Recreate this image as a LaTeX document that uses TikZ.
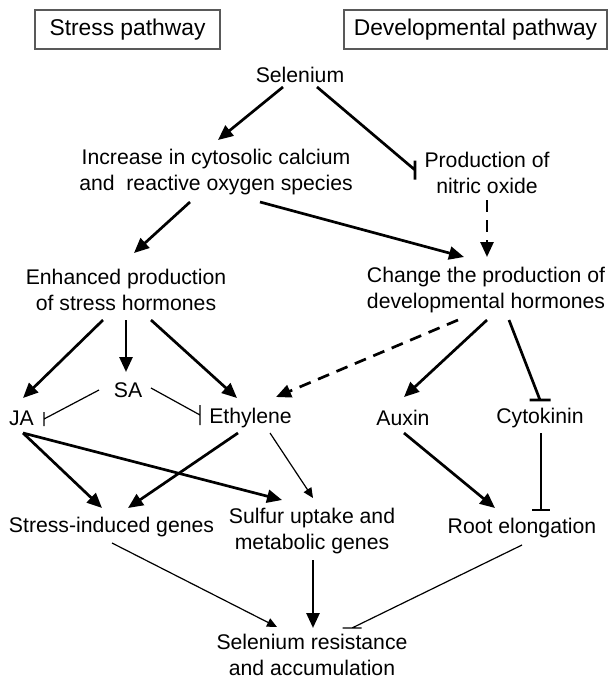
\documentclass[tikz,border=0pt]{standalone}
\usepackage{fontspec}
\setmainfont{Liberation Sans}
\usepackage{tikz}
\usetikzlibrary{arrows.meta}
\usetikzlibrary{calc}

\begin{document}
\begin{tikzpicture}[x=0.5pt, y=-0.5pt,
    texto/.style={align=center, inner sep=0pt, font=\fontsize{10.6}{13}\selectfont},
    caja/.style={draw=black!65, line width=0.7pt, minimum height=19.5pt, inner sep=0pt, font=\fontsize{11.4}{13}\selectfont},
    flecha/.style={line width=1.35pt, -{Triangle[length=7.5pt,width=6.5pt]}},
    fina/.style={line width=0.6pt, -{Triangle[length=5pt,width=4.5pt]}},
    bloqueo/.style={line width=1.35pt},
    bloqueofino/.style={line width=0.6pt},
    discont/.style={dash pattern=on 6pt off 4pt}]
    \useasboundingbox (0,0) rectangle (609,680);

    % Titulos
    \node[caja, minimum width=92.5pt] (estres) at (127.5,29.5) {Stress pathway};
    \node[caja, minimum width=131.5pt] (desarrollo) at (475.5,29.5) {Developmental pathway};

    % Nodos
    \node[texto] (se) at (300,75) {Selenium};
    \node[texto] (calcio) at (216,172.5) {Increase in cytosolic calcium\\and\ \ reactive oxygen species};
    \node[texto] (no) at (487,172.5) {Production of\\nitric oxide};
    \node[texto] (hestres) at (126,290) {Enhanced production\\of stress hormones};
    \node[texto] (hdesarrollo) at (486,290) {Change the production of\\developmental hormones};
    \node[texto] (sa) at (128,390) {SA};
    \node[texto] (ja) at (21.5,418) {JA};
    \node[texto] (etileno) at (250.5,418) {Ethylene};
    \node[texto] (auxina) at (403,418) {Auxin};
    \node[texto] (citoquinina) at (540,418) {Cytokinin};
    \node[texto] (genes) at (111.5,527) {Stress-induced genes};
    \node[texto] (azufre) at (312,531.5) {Sulfur uptake and\\metabolic genes};
    \node[texto] (raiz) at (522,528) {Root elongation};
    \node[texto] (resistencia) at (312,655) {Selenium resistance\\and accumulation};

    % Selenio
    \draw[flecha] ($(se)+(-17,12)$) -- ($(calcio)+(2,-32.5)$);
    \draw[bloqueo] ($(se)+(17,12)$) -- ($(no)+(-72,-2.5)$) ++(0,-9.5) -- ++(0,19);

    % Calcio y oxido nitrico
    \draw[flecha] ($(calcio)+(-26,29.5)$) -- ($(hestres)+(8,-37)$);
    \draw[flecha] ($(calcio)+(44,29.5)$) -- ($(hdesarrollo)+(-22,-33)$);
    \draw[flecha, discont] ($(no)+(0,27.5)$) -- ($(hdesarrollo)+(1,-33)$);

    % Hormonas de estres
    \draw[flecha] ($(hestres)+(-23,30)$) -- ($(ja)+(1.5,-20)$);
    \draw[flecha] ($(hestres)+(0,30)$) -- ($(sa)+(-2,-18)$);
    \draw[flecha] ($(hestres)+(25,30)$) -- ($(etileno)+(-13.5,-20)$);
    \draw[bloqueofino] ($(sa)+(-29,0)$) -- ($(ja)+(22.5,1)$) ++(0,-7) -- ++(0,14);
    \draw[bloqueofino] ($(sa)+(23,-2)$) -- ($(etileno)+(-50.5,-3)$) ++(0,-10) -- ++(0,20);

    % Hormonas de desarrollo
    \draw[flecha, discont] ($(hdesarrollo)+(-28,30)$) -- ($(etileno)+(25.5,-21)$);
    \draw[flecha] ($(hdesarrollo)+(1,30)$) -- ($(auxina)+(1,-21)$);
    \draw[bloqueo] ($(hdesarrollo)+(23,30)$) -- ($(citoquinina)+(0,-18)$) ++(-10.5,0) -- ++(21,0);

    % Genes
    \draw[flecha] ($(ja)+(1.5,15)$) -- ($(genes)+(-9.5,-19)$);
    \draw[flecha] ($(ja)+(1.5,15)$) -- ($(azufre)+(-30,-31.5)$);
    \draw[flecha] ($(etileno)+(-12.5,15)$) -- ($(genes)+(16.5,-19)$);
    \draw[fina] ($(etileno)+(19.5,15)$) -- ($(azufre)+(1,-33.5)$);
    \draw[flecha] ($(auxina)+(1,15)$) -- ($(raiz)+(-27,-20)$);
    \draw[bloqueo] ($(citoquinina)+(1,15)$) -- ($(raiz)+(19,-18)$) ++(-9,0) -- ++(18,0);

    % Resistencia
    \draw[fina] ($(genes)+(0.5,16)$) -- ($(resistencia)+(-35,-28)$);
    \draw[flecha] ($(azufre)+(1,28.5)$) -- ($(resistencia)+(1,-27)$);
    \draw[bloqueofino] ($(raiz)+(0,17)$) -- ($(resistencia)+(40,-27)$) ++(-9.5,0) -- ++(19,0);
\end{tikzpicture}
\end{document}
